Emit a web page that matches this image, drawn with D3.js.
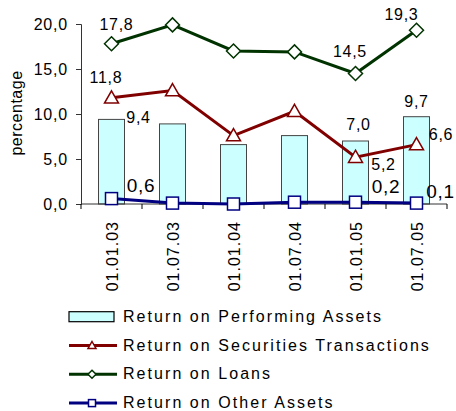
<!DOCTYPE html>
<html>
<head>
<meta charset="utf-8">
<script src="https://d3js.org/d3.v7.min.js"></script>
<style>
  body { margin: 0; background: #fff; }
  text { font-family: "Liberation Sans", Arial, sans-serif; fill: #000; }
</style>
</head>
<body>
<script>
// chart data
var dates = ["01.01.03", "01.07.03", "01.01.04", "01.07.04", "01.01.05", "01.07.05"];
var performing = [9.4, 8.9, 6.6, 7.6, 7.0, 9.7];
var securities = [11.8, 12.6, 7.6, 10.3, 5.2, 6.6];
var loans = [17.8, 19.9, 17.0, 16.9, 14.5, 19.3];
var other = [0.6, 0.1, 0.0, 0.2, 0.2, 0.1];
var yTicks = [0, 5, 10, 15, 20];

var width = 456, height = 411;
var svg = d3.select("body").append("svg")
  .attr("width", width).attr("height", height);

var x = d3.scaleBand().domain(dates).range([81, 447]).paddingInner(0).paddingOuter(0);
var y = d3.scaleLinear().domain([0, 20]).range([204, 24]);
var fmt = function(v) { return d3.format(".1f")(v).replace(".", ","); };
var cx = function(i) { return x(dates[i]) + x.bandwidth() / 2; };

// bars
svg.append("g").selectAll("rect")
  .data(performing)
  .enter().append("rect")
  .attr("x", function(d, i) { return cx(i) - 13; })
  .attr("width", 26)
  .attr("y", function(d) { return y(d); })
  .attr("height", function(d) { return y(0) - y(d); })
  .attr("fill", "#ccffff")
  .attr("stroke", "#444")
  .attr("stroke-width", 1);

// axes
var yAxis = svg.append("g").attr("transform", "translate(81,0)")
  .call(d3.axisLeft(y).tickValues(yTicks).tickSize(5).tickFormat(fmt));
yAxis.selectAll("text").attr("font-size", 16).attr("letter-spacing", 0.8).attr("dx", -5);
var xAxis = svg.append("g").attr("transform", "translate(0,204)")
  .call(d3.axisBottom(x).tickSize(0).tickFormat(""));
xAxis.select(".domain").attr("d", "M81,0H447");
xAxis.selectAll(".bound").data(d3.range(dates.length + 1)).enter().append("line")
  .attr("class", "bound")
  .attr("x1", function(i) { return 81 + i * x.bandwidth(); })
  .attr("x2", function(i) { return 81 + i * x.bandwidth(); })
  .attr("y1", 0).attr("y2", 5).attr("stroke", "#000");
svg.selectAll(".domain, .tick line").attr("stroke", "#333");

// rotated x labels
svg.append("g").selectAll("text")
  .data(dates).enter().append("text")
  .attr("transform", function(d, i) { return "translate(" + (cx(i) + 6) + ",221) rotate(-90)"; })
  .attr("text-anchor", "end")
  .attr("font-size", 16)
  .attr("letter-spacing", 1)
  .text(function(d) { return d; });

svg.append("text")
  .attr("transform", "translate(22,113) rotate(-90)")
  .attr("text-anchor", "middle")
  .attr("font-size", 16)
  .attr("letter-spacing", 0.5)
  .text("percentage");

// lines
var line = d3.line().x(function(d, i) { return cx(i); }).y(function(d) { return y(d); });
var series = [
  { name: "loans", values: loans, color: "#003300", marker: "diamond" },
  { name: "securities", values: securities, color: "#800000", marker: "triangle" },
  { name: "other", values: other, color: "#000080", marker: "square" }
];

function marker(g, type, color, s) {
  if (type === "diamond") {
    g.append("path").attr("d", "M0," + (-s) + "L" + s + ",0L0," + s + "L" + (-s) + ",0Z");
  } else if (type === "triangle") {
    g.append("path").attr("d", "M0," + (-s) + "L" + s + "," + (s * 0.75) + "L" + (-s) + "," + (s * 0.75) + "Z");
  } else {
    g.append("rect").attr("x", -s).attr("y", -s).attr("width", 2 * s).attr("height", 2 * s);
  }
  g.selectAll("path, rect").attr("fill", "#fff").attr("stroke", color).attr("stroke-width", 1.5);
}

series.forEach(function(s) {
  svg.append("path").datum(s.values)
    .attr("d", line).attr("fill", "none")
    .attr("stroke", s.color).attr("stroke-width", 3);
  s.values.forEach(function(v, i) {
    var g = svg.append("g").attr("transform", "translate(" + cx(i) + "," + y(v) + ")");
    marker(g, s.marker, s.color, s.marker === "square" ? 6 : 7);
  });
});

// data labels
var labels = [
  { v: loans[0], i: 0, dx: 5, dy: -14, size: 16 },
  { v: loans[4], i: 4, dx: -5.5, dy: -17, size: 16 },
  { v: loans[5], i: 5, dx: -15, dy: -10, size: 16 },
  { v: securities[0], i: 0, dx: -5.5, dy: -14.5, size: 16 },
  { v: securities[4], i: 4, dx: 28, dy: 13, size: 16 },
  { v: securities[5], i: 5, dx: 24.5, dy: -4.5, size: 16 },
  { v: performing[0], i: 0, dx: 27, dy: 3.3, size: 16 },
  { v: performing[4], i: 4, dx: 3, dy: -11, size: 16 },
  { v: performing[5], i: 5, dx: 0, dy: -9.4, size: 16 },
  { v: other[0], i: 0, dx: 29.5, dy: -6.3, size: 19 },
  { v: other[4], i: 4, dx: 30.5, dy: -9, size: 19 },
  { v: other[5], i: 5, dx: 24, dy: -5, size: 19 }
];
svg.append("g").selectAll("text")
  .data(labels).enter().append("text")
  .attr("x", function(d) { return cx(d.i) + d.dx; })
  .attr("y", function(d) { return y(d.v) + d.dy; })
  .attr("text-anchor", "middle")
  .attr("font-size", function(d) { return d.size; })
  .attr("letter-spacing", 0.7)
  .text(function(d) { return fmt(d.v); });

// legend
var legendItems = [
  { label: "Return on Performing Assets", type: "bar" },
  { label: "Return on Securities Transactions", type: "triangle", color: "#800000" },
  { label: "Return on Loans", type: "diamond", color: "#003300" },
  { label: "Return on Other Assets", type: "square", color: "#000080" }
];
var lg = svg.append("g").selectAll("g").data(legendItems).enter().append("g")
  .attr("transform", function(d, i) { return "translate(69," + (316.7 + i * 28.8) + ")"; });
lg.each(function(d) {
  var g = d3.select(this);
  if (d.type === "bar") {
    g.append("rect").attr("x", 0).attr("y", -5).attr("width", 45).attr("height", 10)
      .attr("fill", "#ccffff").attr("stroke", "#000").attr("stroke-width", 1.2);
  } else {
    g.append("line").attr("x1", 0).attr("x2", 48).attr("y1", 0).attr("y2", 0)
      .attr("stroke", d.color).attr("stroke-width", 3);
    var m = g.append("g").attr("transform", "translate(23,0)");
    marker(m, d.type, d.color, d.type === "square" ? 3.5 : 4);
  }
});
var lgText = lg.append("text")
  .attr("x", 54).attr("y", 5)
  .attr("font-size", 16)
  .text(function(d) { return d.label; });
// spread letters so the first row is about 260px wide, like the original
var natural = lgText.nodes()[0].getComputedTextLength();
var spacing = Math.max(0, (260 - natural) / legendItems[0].label.length);
lgText.attr("letter-spacing", spacing);
</script>
</body>
</html>
